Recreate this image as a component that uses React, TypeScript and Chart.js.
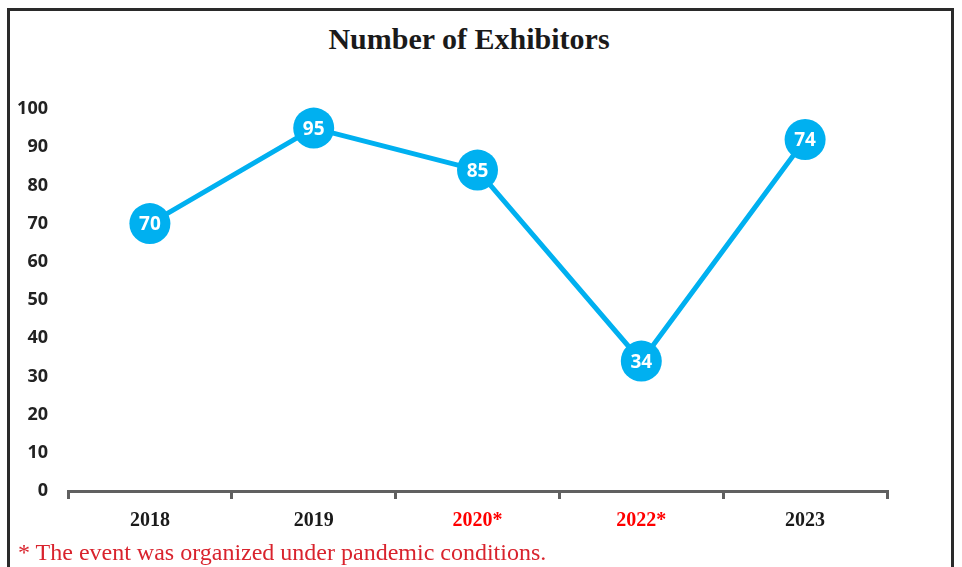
import React, { useEffect, useRef } from "react";
import { Chart, registerables } from "chart.js";

Chart.register(...registerables);

const categories = ["2018", "2019", "2020*", "2022*", "2023"];
const values = [70, 95, 84, 34, 92];
const pointLabels = ["70", "95", "85", "34", "74"];
const categoryColors = ["#1a1a1a", "#1a1a1a", "#ff0000", "#ff0000", "#1a1a1a"];
const yTicks = [0, 10, 20, 30, 40, 50, 60, 70, 80, 90, 100];
const titleText = "Number of Exhibitors";
const footnoteText = "* The event was organized under pandemic conditions.";

const LINE_COLOR = "#00b0f0";

const pointLabelPlugin = {
  id: "pointLabels",
  afterDatasetsDraw(chart: any) {
    const ctx = chart.ctx;
    const meta = chart.getDatasetMeta(0);
    ctx.save();
    ctx.fillStyle = "#ffffff";
    ctx.font = "bold 19px 'Open Sans'";
    ctx.textAlign = "center";
    ctx.textBaseline = "middle";
    meta.data.forEach((pt: any, i: number) => {
      ctx.fillText(pointLabels[i], pt.x, pt.y + 1);
    });
    ctx.restore();
  },
};

export default function App() {
  const canvasRef = useRef<HTMLCanvasElement | null>(null);

  useEffect(() => {
    if (!canvasRef.current) return;
    const chart = new Chart(canvasRef.current, {
      type: "line",
      data: {
        labels: categories,
        datasets: [
          {
            data: values,
            borderColor: LINE_COLOR,
            backgroundColor: LINE_COLOR,
            borderWidth: 5,
            pointRadius: 20.5,
            pointHoverRadius: 20.5,
            pointBorderWidth: 0,
            pointBackgroundColor: LINE_COLOR,
            tension: 0,
            clip: false as any,
          },
        ],
      },
      options: {
        responsive: false,
        animation: false,
        layout: { padding: { left: 8, right: 75, top: 109, bottom: 24 } },
        plugins: {
          legend: { display: false },
          tooltip: { enabled: false },
          title: { display: false },
        },
        scales: {
          x: {
            type: "category",
            offset: true,
            grid: {
              display: true,
              drawOnChartArea: false,
              drawTicks: true,
              tickLength: 8,
              offset: true,
              color: "#606060",
              lineWidth: 3,
            },
            border: { display: true, color: "#606060", width: 3 },
            ticks: {
              padding: 10,
              font: { family: "'Liberation Serif'", size: 20, weight: "bold" },
              color: (c: any) => categoryColors[c.index] || "#1a1a1a",
            },
          },
          y: {
            min: 0,
            max: 100,
            afterFit(scale: any) {
              scale.width = 60;
            },
            afterBuildTicks(scale: any) {
              scale.ticks = yTicks.map((v) => ({ value: v }));
            },
            grid: { display: false, drawTicks: false },
            border: { display: false },
            ticks: {
              padding: 20,
              font: { family: "'Open Sans'", size: 18, weight: "bold" },
              color: "#222222",
            },
          },
        },
      },
      plugins: [pointLabelPlugin],
    });
    return () => chart.destroy();
  }, []);

  return (
    <div style={{ position: "absolute", left: 0, top: 0, width: 962, height: 567, background: "#fff", overflow: "hidden" }}>
      <div
        style={{
          position: "absolute",
          left: 7,
          top: 8,
          width: 941,
          height: 600,
          borderTop: "3px solid #2a2a2a",
          borderLeft: "3px solid #2a2a2a",
          borderRight: "3px solid #2a2a2a",
          boxSizing: "content-box",
        }}
      />
      <div
        style={{
          position: "absolute",
          left: 0,
          top: 22,
          width: 938,
          textAlign: "center",
          fontFamily: "'Liberation Serif'",
          fontWeight: "bold",
          fontSize: 30,
          lineHeight: "34px",
          color: "#1a1a1a",
          whiteSpace: "nowrap",
        }}
      >
        {titleText}
      </div>
      <canvas ref={canvasRef} width={962} height={567} style={{ position: "absolute", left: 0, top: 0 }} />
      <div
        style={{
          position: "absolute",
          left: 18,
          top: 539,
          fontFamily: "'Liberation Serif'",
          fontSize: 24,
          lineHeight: "27px",
          color: "#d9232d",
          whiteSpace: "nowrap",
        }}
      >
        {footnoteText}
      </div>
    </div>
  );
}
